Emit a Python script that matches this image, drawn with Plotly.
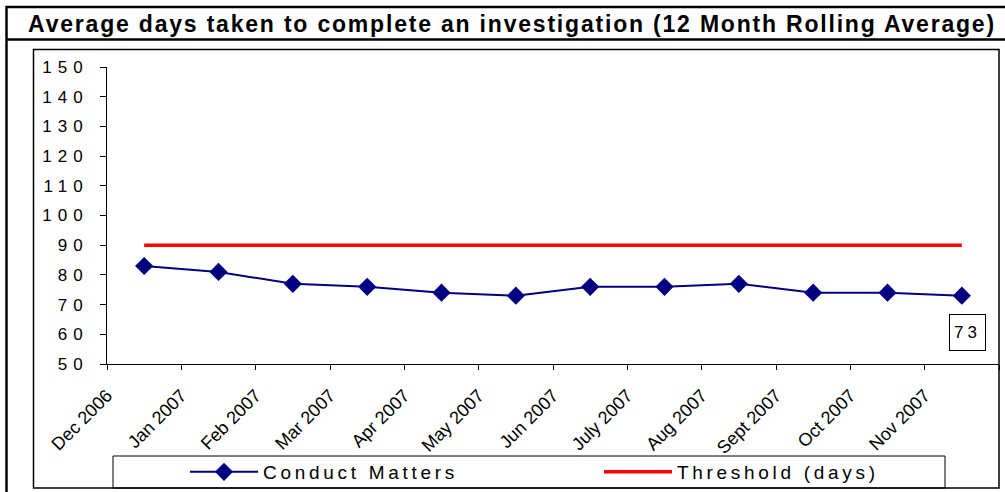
import plotly.graph_objects as go

# Data
months = ["Dec 2006", "Jan 2007", "Feb 2007", "Mar 2007", "Apr 2007", "May 2007",
          "Jun 2007", "July 2007", "Aug 2007", "Sept 2007", "Oct 2007", "Nov 2007"]
conduct_matters = [83, 81, 77, 76, 74, 73, 76, 76, 77, 74, 74, 73]
threshold_days = [90, 90, 90, 90, 90, 90, 90, 90, 90, 90, 90, 90]
y_ticks = [50, 60, 70, 80, 90, 100, 110, 120, 130, 140, 150]

W, H = 1005, 492
L, R, T, B = 107, 6, 67, 128
PW, PH = W - L - R, H - T - B

# points sit in the middle of each month slot, labels on the slot edges
x_pts = [i + 0.5 for i in range(len(months))]


def px(x):
    return (x - L) / PW


def py(y):
    return (H - B - y) / PH


FONT = "Liberation Sans, Arial, sans-serif"

fig = go.Figure()
fig.add_trace(go.Scatter(
    x=x_pts, y=conduct_matters, name="Conduct Matters", mode="lines+markers",
    line=dict(color="#000080", width=2),
    marker=dict(symbol="diamond", size=14, color="#000080"),
))
fig.add_trace(go.Scatter(
    x=x_pts, y=threshold_days, name="Threshold (days)", mode="lines",
    line=dict(color="#FF0000", width=3.5),
))

# data label on the last point
fig.add_annotation(
    x=x_pts[-1], y=conduct_matters[-1], text=str(conduct_matters[-1]),
    showarrow=False, xshift=6, yshift=-37,
    font=dict(family=FONT, size=17, color="black"),
    bordercolor="black", borderwidth=1, borderpad=8, bgcolor="white",
)

# frames: title box, chart area box, legend box
fig.add_shape(type="line", xref="paper", yref="paper", x0=px(6), x1=px(1005), y0=py(7), y1=py(7),
              line=dict(color="black", width=2.5))
fig.add_shape(type="line", xref="paper", yref="paper", x0=px(6), x1=px(1005), y0=py(39.5), y1=py(39.5),
              line=dict(color="black", width=2.5))
fig.add_shape(type="line", xref="paper", yref="paper", x0=px(6.5), x1=px(6.5), y0=py(6), y1=py(492),
              line=dict(color="black", width=2.5))
fig.add_shape(type="rect", xref="paper", yref="paper", x0=px(33.5), x1=px(999), y0=py(49.5), y1=py(488),
              line=dict(color="black", width=1.5))
fig.add_shape(type="rect", xref="paper", yref="paper", x0=px(113), x1=px(945), y0=py(456), y1=py(488),
              line=dict(color="black", width=1))

fig.update_layout(
    width=W, height=H,
    margin=dict(l=L, r=R, t=T, b=B, autoexpand=False),
    paper_bgcolor="white", plot_bgcolor="white",
    font=dict(family=FONT, color="black"),
    title=dict(
        text="<b>Average days taken to complete an investigation (12 Month Rolling Average)</b>",
        font=dict(family=FONT, size=23, color="black"),
        x=px(512), xref="paper", xanchor="center",
        y=1 - 24 / H, yref="container", yanchor="middle",
    ),
    showlegend=True,
    legend=dict(
        orientation="h", xref="container", yref="container",
        x=185 / W, xanchor="left", y=1 - 472 / H, yanchor="middle",
        font=dict(family=FONT, size=19, color="black"),
        itemwidth=68, entrywidth=331, bgcolor="rgba(0,0,0,0)", borderwidth=0,
    ),
    xaxis=dict(
        range=[0, len(months)], tickmode="array", automargin=False,
        tickvals=list(range(len(months) + 1)), ticktext=months + [""],
        tickangle=-45, ticks="outside", ticklen=5, tickcolor="black",
        showline=True, linecolor="black", linewidth=1, showgrid=False, zeroline=False,
        tickfont=dict(family=FONT, size=18, color="black"), ticklabelstandoff=8,
    ),
    yaxis=dict(
        range=[50, 150], tickmode="array", tickvals=y_ticks, automargin=False,
        ticks="outside", ticklen=6, tickcolor="black",
        showline=True, linecolor="black", linewidth=1, showgrid=False, zeroline=False,
        tickfont=dict(family=FONT, size=17, color="black"), ticklabelstandoff=8,
    ),
)

post = """
document.body.style.margin = '0';
var gd = document.getElementById('{plot_id}');
function sp(sel, v) { gd.querySelectorAll(sel).forEach(function (t) { t.style.letterSpacing = v; }); }
sp('.gtitle', '1.8px');
sp('.ytick text', '6px');
sp('.legendtext', '3.7px');
sp('.annotation-text', '4px');
"""

fig.write_html("out.html", post_script=post, config={"displayModeBar": False})
